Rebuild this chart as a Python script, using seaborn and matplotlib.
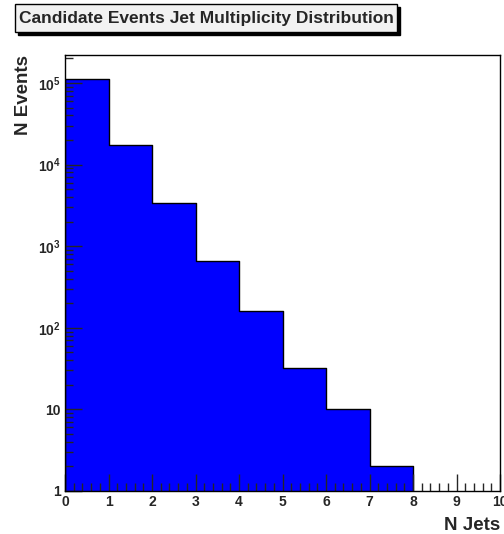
import numpy as np
import pandas as pd
import matplotlib
matplotlib.use("Agg")
import matplotlib.pyplot as plt
from matplotlib.patches import Rectangle
from matplotlib.ticker import FixedLocator, FuncFormatter, LogLocator, MultipleLocator
import seaborn as sns

# ---- data ----
n_jets = [0, 1, 2, 3, 4, 5, 6, 7, 8, 9]
n_events = [113000, 17200, 3350, 653, 160, 32, 10, 2, 0, 0]
bin_edges = [0, 1, 2, 3, 4, 5, 6, 7, 8, 9, 10]
x_tick_labels = ["0", "1", "2", "3", "4", "5", "6", "7", "8", "9", "10"]
y_tick_values = [1, 10, 100, 1000, 10000, 100000]
y_tick_labels = ["1", "10", r"$\mathbf{10^{2}}$", r"$\mathbf{10^{3}}$",
                 r"$\mathbf{10^{4}}$", r"$\mathbf{10^{5}}$"]
title = "Candidate Events Jet Multiplicity Distribution"

sns.set_style("ticks")
plt.rcParams["font.family"] = ["Liberation Sans", "DejaVu Sans"]
plt.rcParams["font.weight"] = "bold"
plt.rcParams["mathtext.fontset"] = "custom"
plt.rcParams["mathtext.rm"] = "Liberation Sans:bold"
plt.rcParams["mathtext.bf"] = "Liberation Sans:bold"
plt.rcParams["mathtext.it"] = "Liberation Sans:bold"

W, H = 504, 534
fig = plt.figure(figsize=(W / 100, H / 100), dpi=100)
L, R, T, B = 65, 500, 55, 491
ax = fig.add_axes([L / W, 1 - B / H, (R - L) / W, (B - T) / H])
ax.set_yscale("log")

df = pd.DataFrame({"njets": n_jets, "events": n_events})
sns.histplot(data=df, x="njets", weights="events", bins=bin_edges,
             element="step", fill=True, color="#0000ff", alpha=1.0,
             edgecolor="black", linewidth=1.0, ax=ax)
ax.set_axisbelow(False)

ax.set_xlim(0, 10)
ax.set_ylim(1, 2.2e5)

ax.xaxis.set_major_locator(FixedLocator(bin_edges))
ax.xaxis.set_major_formatter(FuncFormatter(lambda v, p: x_tick_labels[int(round(v))] if 0 <= round(v) < len(x_tick_labels) else ""))
ax.xaxis.set_minor_locator(MultipleLocator(0.2))

ax.yaxis.set_major_locator(FixedLocator(y_tick_values))
ax.set_yticklabels(y_tick_labels)
ax.yaxis.set_minor_locator(LogLocator(base=10, subs=np.arange(2, 10)))
ax.yaxis.set_minor_formatter(FuncFormatter(lambda v, p: ""))

ax.tick_params(which="major", direction="in", length=12, width=1, labelsize=10,
               top=False, right=False, pad=3, zorder=5)
ax.tick_params(which="minor", direction="in", length=6, width=1, top=False, right=False)
for lbl in ax.get_xticklabels() + ax.get_yticklabels():
    lbl.set_fontweight("bold")

for s in ax.spines.values():
    s.set_linewidth(1.0)
    s.set_color("black")
    s.set_visible(True)
    s.set_zorder(6)

ax.set_xlabel("N Jets", fontsize=13.5, fontweight="bold", loc="right", labelpad=6)
ax.set_ylabel("N Events", fontsize=13.5, fontweight="bold", loc="top", labelpad=4)

# title box with shadow (ROOT style)
bx0, bx1, by0, by1 = 15, 397, 4, 32
sh = 3
fig.patches.append(Rectangle(((bx0 + sh) / W, 1 - (by1 + sh) / H), (bx1 - bx0) / W, (by1 - by0) / H,
                             transform=fig.transFigure, facecolor="black", edgecolor="black", zorder=1))
fig.patches.append(Rectangle((bx0 / W, 1 - by1 / H), (bx1 - bx0) / W, (by1 - by0) / H,
                             transform=fig.transFigure, facecolor="#f2f2f2", edgecolor="black",
                             linewidth=1.0, zorder=2))
fig.text((bx0 + bx1) / 2 / W, 1 - (by0 + by1) / 2 / H, title, ha="center", va="center",
         fontsize=12.5, fontweight="bold", zorder=3)

fig.savefig("out.png", dpi=100)
